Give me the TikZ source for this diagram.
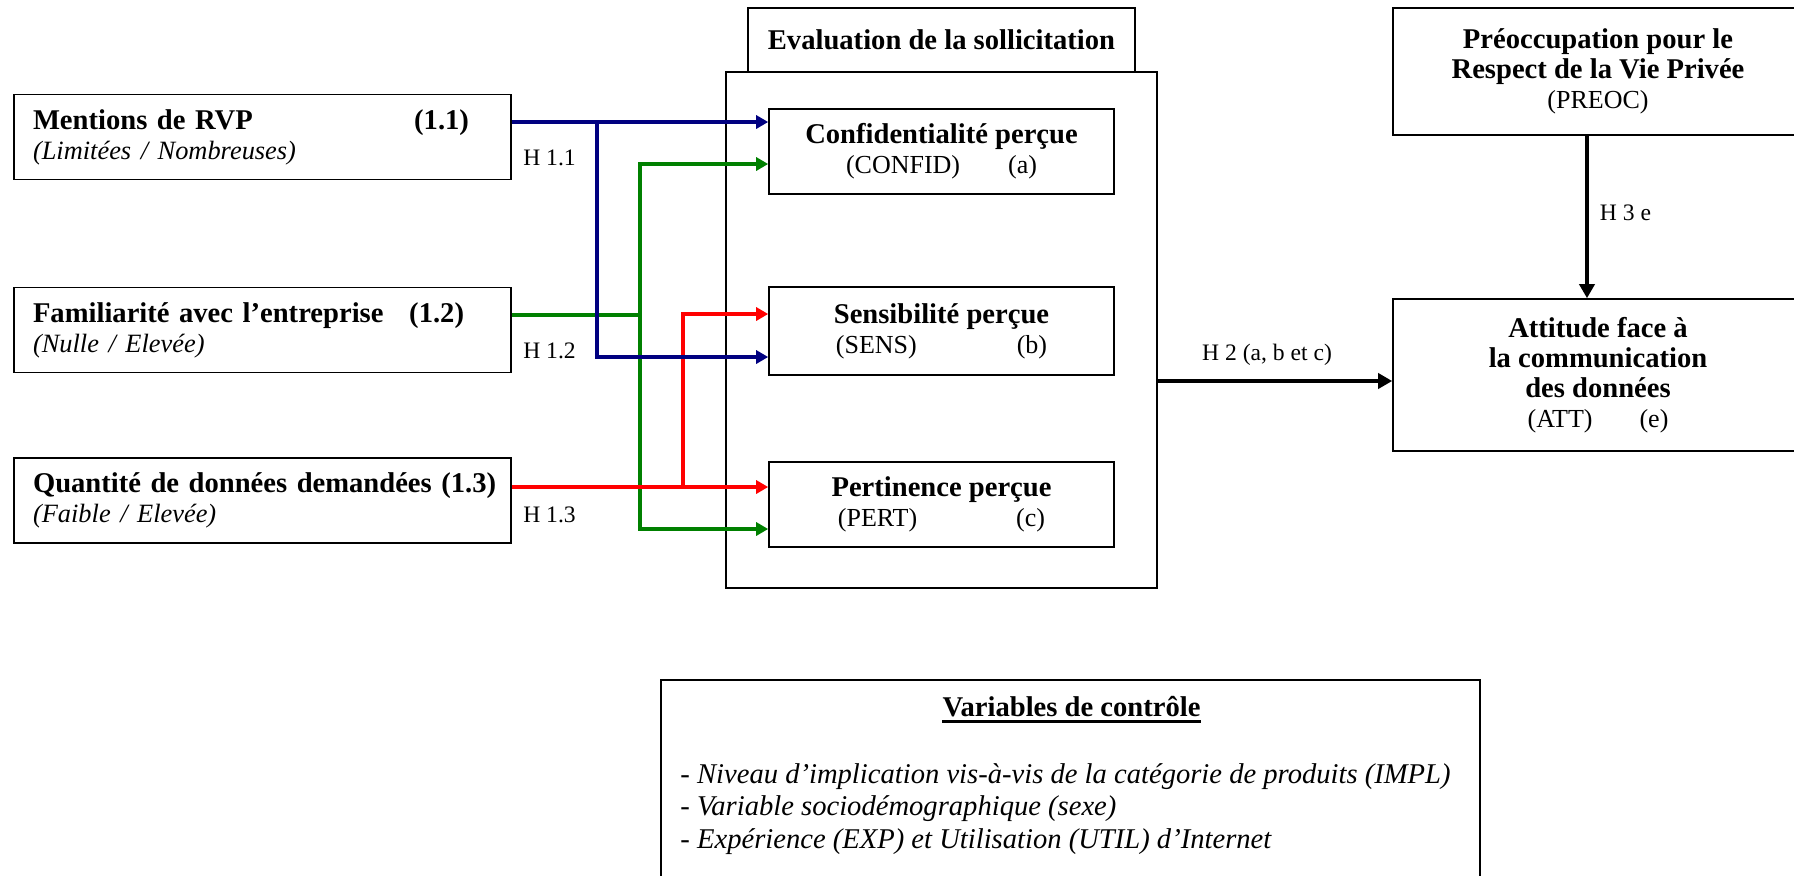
\documentclass[tikz,border=0pt]{standalone}
\usepackage{fontspec}
\setmainfont{Liberation Serif}
\usepackage{tikz}
\usetikzlibrary{arrows.meta,positioning,calc}
\definecolor{hblue}{RGB}{0,0,128}
\definecolor{hgreen}{RGB}{0,128,0}
\definecolor{hred}{RGB}{255,0,0}
\newcommand{\titre}[1]{{\fontsize{14.3}{15}\selectfont\bfseries #1}}
\newcommand{\modal}[1]{{\fontsize{13.2}{15}\selectfont\itshape #1}}

\begin{document}
\begin{tikzpicture}[x=0.5pt, y=-0.5pt, >={Triangle[length=6pt,width=6.5pt]},
    box/.style={draw, line width=0.8pt, inner sep=0pt},
    varbox/.style={box, align=left, text width=229.5pt, inner xsep=9.5pt, minimum height=42.5pt, font=\fontsize{14.3}{15}\selectfont},
    midbox/.style={box, align=center, minimum width=172.5pt, font=\fontsize{13}{15}\selectfont},
    link/.style={line width=2pt},
    bigarrow/.style={line width=2.3pt, -{Triangle[length=7pt,width=7.5pt]}},
    hlabel/.style={font=\fontsize{11.8}{13}\selectfont, inner sep=0pt}]

    \useasboundingbox (0,0) rectangle (1794,875);

    % variables manipulees
    \node[varbox] (mentions) at (262.5,137) {\titre{Mentions de RVP\hfill(1.1)\kern11.5pt}\\ \modal{(Limitées / Nombreuses)}};
    \node[varbox] (famil) at (262.5,330) {\titre{Familiarité avec l’entreprise\hfill(1.2)\kern14pt}\\ \modal{(Nulle / Elevée)}};
    \node[varbox] (quant) at (262.5,500.5) {\titre{\mbox{Quantité de données demandées (1.3)}}\\ \modal{(Faible / Elevée)}};

    % evaluation de la sollicitation
    \node[box, minimum width=215.5pt, minimum height=258pt] (evalbox) at (941.5,330) {};
    \node[box, minimum width=193.5pt, minimum height=32pt] (evaltitle) at (941.5,40) {\titre{Evaluation de la sollicitation}};
    \node[midbox, minimum height=42.5pt] (confid) at (941.5,151.5) {\titre{Confidentialité perçue}\\(CONFID)\hspace{24pt}(a)};
    \node[midbox, minimum height=44pt] (sens) at (941.5,331) {\titre{Sensibilité perçue}\\(SENS)\hspace{50pt}(b)};
    \node[midbox, minimum height=42.5pt] (pert) at (941.5,504.5) {\titre{Pertinence perçue}\\(PERT)\hspace{49.5pt}(c)};

    % preoccupation et attitude
    \node[midbox, minimum width=205pt, minimum height=63.5pt] (preoc) at (1598,71.5) {\titre{Préoccupation pour le}\\\titre{Respect de la Vie Privée}\\(PREOC)};
    \node[midbox, minimum width=205pt, minimum height=76pt] (att) at (1598,375) {\titre{Attitude face à}\\\titre{la communication}\\\titre{des données}\\(ATT)\hspace{23.5pt}(e)};

    % variables de controle
    \node[box, minimum width=409.5pt, minimum height=100pt] (controle) at (1070.5,780) {};
    \node[inner sep=0pt] (ctitle) at (1071.5,707) {\titre{Variables de contrôle}};
    \draw[line width=1.3pt] ([yshift=-1.8pt]ctitle.south west) -- ([yshift=-1.8pt]ctitle.south east);
    \node[inner sep=0pt, align=left, anchor=west, font=\fontsize{14.3}{16.25}\selectfont\itshape] (clist) at (680,809)
        {- Niveau d’implication vis-à-vis de la catégorie de produits (IMPL)\\- Variable sociodémographique (sexe)\\- Expérience (EXP) et Utilisation (UTIL) d’Internet};

    % hypotheses
    \node[hlabel] (h11) at (549.5,158) {H 1.1};
    \node[hlabel] (h12) at (549.5,351) {H 1.2};
    \node[hlabel] (h13) at (549.5,515) {H 1.3};
    \node[hlabel] (h2) at (1267,355) {H 2 (a, b et c)};
    \node[hlabel] (h3) at (1625.5,213) {H 3 e};

    \coordinate (bl1) at (597,122);
    \coordinate (bl2) at (597,357);
    \coordinate (gr0) at (640,315);
    \coordinate (gr1) at (640,164);
    \coordinate (gr2) at (640,529);
    \coordinate (rd1) at (683,487);
    \coordinate (rd2) at (683,314);
    \coordinate (h2end) at ([yshift=-3pt]att.west);

    \draw[link, hgreen] (famil.east |- gr0) -- (gr0);
    \draw[link, hgreen, <->] (confid.west |- gr1) -- (gr1) -- (gr2) -- (pert.west |- gr2);
    \draw[link, hred, ->] (quant.east |- rd1) -- (pert.west |- rd1);
    \draw[link, hred, ->] (rd1) -- (rd2) -- (sens.west |- rd2);
    \draw[link, hblue, ->] (mentions.east |- bl1) -- (confid.west |- bl1);
    \draw[link, hblue, ->] (bl1) -- (bl2) -- (sens.west |- bl2);

    \draw[bigarrow] (evalbox.east |- h2end) -- (h2end);
    \draw[bigarrow] ([xshift=-5.5pt]preoc.south) -- ([xshift=-5.5pt]att.north);
\end{tikzpicture}
\end{document}
